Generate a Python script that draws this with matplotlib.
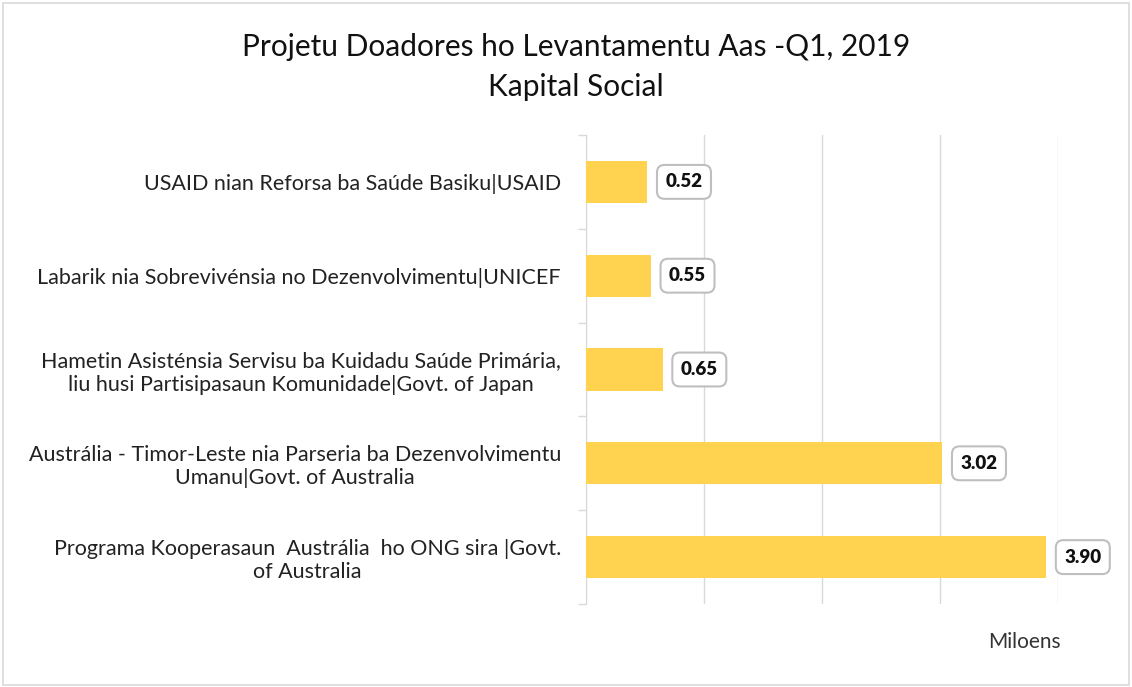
import matplotlib.pyplot as plt
from matplotlib.patches import Rectangle

projetus = [
    "USAID nian Reforsa ba Saúde Basiku|USAID",
    "Labarik nia Sobrevivénsia no Dezenvolvimentu|UNICEF",
    "Hametin Asisténsia Servisu ba Kuidadu Saúde Primária,\nliu husi Partisipasaun Komunidade|Govt. of Japan",
    "Austrália - Timor-Leste nia Parseria ba Dezenvolvimentu\nUmanu|Govt. of Australia",
    "Programa Kooperasaun  Austrália  ho ONG sira |Govt.\nof Australia",
]
valores = [0.52, 0.55, 0.65, 3.02, 3.90]

plt.rcParams['font.family'] = ['Lato', 'DejaVu Sans']

fig = plt.figure(figsize=(11.32, 6.87), dpi=100)
fig.patches.append(Rectangle((0.003, 0.003), 0.994, 0.992, transform=fig.transFigure,
                             fill=False, edgecolor='#d9d9d9', linewidth=1.2))

ax = fig.add_axes([586 / 1132, 1 - 604 / 687, 472 / 1132, 469 / 687])
pos = list(range(len(valores)))
ax.barh(pos, valores, height=0.45, color='#FFD34F', zorder=3)
ax.set_xlim(0, 4)
ax.set_ylim(len(valores) - 0.5, -0.5)

ax.set_xticks([0, 1, 2, 3, 4])
ax.set_xticklabels([])
ax.tick_params(axis='x', length=0)
ax.grid(axis='x', color='#d9d9d9', linewidth=1, zorder=0)

ax.set_yticks(pos)
ax.set_yticklabels(projetus, fontsize=15.5, color='#222222', multialignment='center')
ax.tick_params(axis='y', which='major', length=0, pad=18)
ax.set_yticks([p - 0.5 for p in range(len(valores) + 1)], minor=True)
ax.tick_params(axis='y', which='minor', length=6, color='#d9d9d9', width=1)

for s in ['top', 'right', 'bottom']:
    ax.spines[s].set_visible(False)
ax.spines['left'].set_color('#d9d9d9')

for p, v in zip(pos, valores):
    ax.annotate(f"{v:.2f}", (v, p), xytext=(13, 0), textcoords='offset points',
                va='center', ha='left', fontsize=13.5, fontweight='heavy', color='#111111',
                bbox=dict(boxstyle='round,pad=0.45,rounding_size=0.4', fc='white',
                          ec='#bfbfbf', lw=1.5))

fig.text(576 / 1132, 1 - 67 / 687, "Projetu Doadores ho Levantamentu Aas -Q1, 2019\nKapital Social",
         ha='center', va='center', fontsize=21.5, color='#111111', linespacing=1.5)
fig.text(1024 / 1132, 1 - 642 / 687, "Miloens", ha='center', va='center',
         fontsize=15, color='#333333')

fig.savefig('out.png', dpi=100)
